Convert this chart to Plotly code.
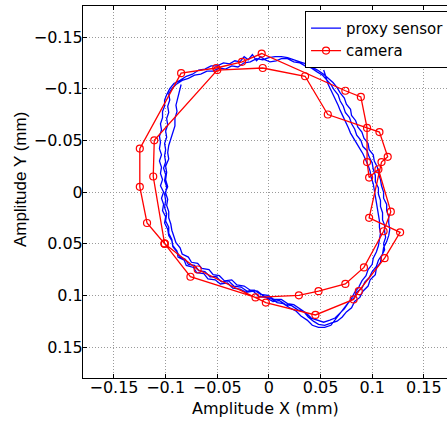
import plotly.graph_objects as go

# ---- data (mm) ----
camera_x = [-0.101, -0.076, -0.013, 0.029, 0.048, 0.074, 0.092, 0.111, 0.118, 0.106,
            0.097, 0.095, 0.095, 0.089, 0.074, -0.007, -0.026, -0.051, -0.085, -0.125,
            -0.125, -0.118, -0.101, -0.069, -0.003, 0.045, 0.082, 0.087, 0.112, 0.127,
            0.097, 0.109, 0.115, 0.107, 0.057, 0.035, -0.006, -0.050, -0.111, -0.112,
            -0.101]
camera_y = [0.050, 0.082, 0.102, 0.100, 0.096, 0.089, 0.073, 0.038, 0.019, -0.022,
            -0.014, -0.029, -0.062, -0.092, -0.098, -0.134, -0.126, -0.120, -0.115, -0.042,
            -0.005, 0.030, 0.050, 0.075, 0.107, 0.119, 0.104, 0.096, 0.064, 0.039,
            0.025, -0.029, -0.034, -0.058, -0.075, -0.112, -0.120, -0.118, -0.050, -0.015,
            0.050]

proxy_x = [
    # loop 1
    -0.085, -0.087, -0.088, -0.090, -0.089, -0.091, -0.091, -0.093, -0.095, -0.097,
    -0.098, -0.097, -0.100, -0.099, -0.100, -0.098, -0.101, -0.100, -0.101, -0.099,
    -0.100, -0.097, -0.097, -0.094, -0.093, -0.089, -0.088, -0.082, -0.080, -0.073,
    -0.070, -0.063, -0.059, -0.052, -0.047, -0.040, -0.035, -0.028, -0.022, -0.015,
    -0.010, -0.003, 0.004, 0.010, 0.016, 0.022, 0.028, 0.034, 0.038, 0.043,
    0.048, 0.054, 0.060, 0.066, 0.071, 0.075, 0.080, 0.083, 0.088, 0.091,
    0.096, 0.098, 0.103, 0.104, 0.108, 0.109, 0.112, 0.111, 0.113, 0.112,
    0.112, 0.110, 0.110, 0.108, 0.108, 0.106, 0.106, 0.103, 0.103, 0.101,
    0.100, 0.097, 0.095, 0.091, 0.089, 0.085, 0.083, 0.080, 0.078, 0.074,
    0.072, 0.069, 0.067, 0.063, 0.060, 0.056, 0.052, 0.047, 0.041, 0.035,
    0.030, 0.024, 0.018, 0.012, 0.007, 0.001, -0.004, -0.008, -0.012, -0.016,
    -0.020, -0.024, -0.028, -0.033, -0.038, -0.044, -0.050, -0.056, -0.062, -0.068,
    -0.074, -0.080, -0.086, -0.092,
    # loop 2
    -0.096, -0.099, -0.101, -0.101, -0.103, -0.103, -0.105, -0.104, -0.106, -0.105,
    -0.106, -0.104, -0.106, -0.104, -0.105, -0.103, -0.105, -0.102, -0.104, -0.102,
    -0.103, -0.100, -0.101, -0.098, -0.097, -0.094, -0.093, -0.089, -0.086, -0.081,
    -0.078, -0.072, -0.068, -0.062, -0.057, -0.051, -0.046, -0.039, -0.034, -0.027,
    -0.021, -0.014, -0.008, -0.001, 0.005, 0.012, 0.018, 0.024, 0.030, 0.036,
    0.041, 0.047, 0.053, 0.059, 0.064, 0.069, 0.073, 0.077, 0.082, 0.085,
    0.090, 0.093, 0.097, 0.100, 0.104, 0.106, 0.110, 0.111, 0.114, 0.116,
    0.117, 0.116, 0.116, 0.114, 0.114, 0.111, 0.111, 0.109, 0.108, 0.106,
    0.105, 0.102, 0.101, 0.097, 0.096, 0.092, 0.090, 0.086, 0.084, 0.080,
    0.079, 0.075, 0.073, 0.069, 0.066, 0.062, 0.058, 0.053, 0.047, 0.042,
    0.036, 0.030, 0.024, 0.018, 0.012, 0.006, 0.000, -0.006, -0.012, -0.018,
    -0.024, -0.030, -0.036, -0.042, -0.048, -0.054, -0.060, -0.066, -0.072, -0.078,
    -0.084, -0.090, -0.094,
    # loop 3
    -0.097, -0.096, -0.098, -0.097, -0.099, -0.098, -0.100, -0.099, -0.101, -0.100,
    -0.101, -0.100, -0.102, -0.100, -0.101, -0.099, -0.100, -0.098, -0.099, -0.097,
    -0.097, -0.095, -0.094, -0.092, -0.090, -0.086, -0.084, -0.078, -0.075, -0.069,
    -0.065, -0.058, -0.054, -0.048, -0.043, -0.036, -0.031, -0.024, -0.018, -0.011,
    -0.005, 0.002, 0.008, 0.014, 0.020, 0.026, 0.031, 0.037, 0.042, 0.048,
    0.054, 0.060, 0.064, 0.068, 0.072, 0.076, 0.080, 0.083, 0.087, 0.090,
    0.094, 0.096, 0.100, 0.101, 0.104, 0.106, 0.107, 0.108, 0.107, 0.107,
    0.106, 0.105, 0.104, 0.103, 0.102, 0.101, 0.099, 0.098, 0.096, 0.094,
    0.091, 0.088, 0.085, 0.082, 0.079, 0.077, 0.074, 0.072, 0.069, 0.067,
    0.064, 0.062, 0.059, 0.057, 0.055, 0.053,
]
proxy_y = [
    # loop 1
    -0.104, -0.097, -0.091, -0.084, -0.078, -0.071, -0.064, -0.058, -0.051, -0.045,
    -0.038, -0.032, -0.025, -0.019, -0.012, -0.005, 0.002, 0.008, 0.015, 0.021,
    0.028, 0.034, 0.040, 0.046, 0.052, 0.057, 0.063, 0.066, 0.071, 0.073,
    0.078, 0.079, 0.084, 0.085, 0.089, 0.088, 0.093, 0.094, 0.097, 0.096,
    0.101, 0.102, 0.106, 0.105, 0.109, 0.110, 0.114, 0.116, 0.121, 0.125,
    0.128, 0.129, 0.127, 0.125, 0.121, 0.116, 0.112, 0.106, 0.102, 0.096,
    0.091, 0.085, 0.080, 0.074, 0.068, 0.062, 0.056, 0.050, 0.044, 0.038,
    0.032, 0.027, 0.020, 0.014, 0.008, 0.002, -0.004, -0.010, -0.016, -0.022,
    -0.028, -0.034, -0.040, -0.044, -0.050, -0.055, -0.061, -0.066, -0.072, -0.077,
    -0.083, -0.088, -0.094, -0.099, -0.104, -0.108, -0.113, -0.116, -0.120, -0.122,
    -0.125, -0.126, -0.129, -0.129, -0.127, -0.126, -0.128, -0.131, -0.127, -0.133,
    -0.128, -0.131, -0.126, -0.127, -0.124, -0.125, -0.122, -0.122, -0.119, -0.118,
    -0.114, -0.112, -0.108, -0.105,
    # loop 2
    -0.100, -0.094, -0.089, -0.083, -0.078, -0.072, -0.066, -0.060, -0.054, -0.048,
    -0.042, -0.036, -0.030, -0.024, -0.018, -0.012, -0.006, 0.000, 0.006, 0.012,
    0.018, 0.024, 0.030, 0.036, 0.042, 0.047, 0.053, 0.058, 0.063, 0.065,
    0.070, 0.071, 0.076, 0.077, 0.082, 0.082, 0.087, 0.086, 0.091, 0.092,
    0.096, 0.095, 0.099, 0.100, 0.104, 0.104, 0.108, 0.109, 0.113, 0.117,
    0.122, 0.124, 0.126, 0.124, 0.122, 0.117, 0.113, 0.107, 0.103, 0.097,
    0.093, 0.087, 0.083, 0.077, 0.072, 0.066, 0.060, 0.054, 0.048, 0.042,
    0.036, 0.030, 0.024, 0.018, 0.012, 0.006, 0.000, -0.006, -0.012, -0.018,
    -0.024, -0.030, -0.036, -0.041, -0.047, -0.052, -0.058, -0.063, -0.069, -0.074,
    -0.080, -0.085, -0.091, -0.096, -0.101, -0.106, -0.110, -0.114, -0.118, -0.121,
    -0.124, -0.126, -0.128, -0.130, -0.131, -0.131, -0.130, -0.128, -0.129, -0.126,
    -0.125, -0.121, -0.122, -0.119, -0.120, -0.117, -0.117, -0.114, -0.113, -0.110,
    -0.108, -0.104, -0.100,
    # loop 3
    -0.095, -0.089, -0.083, -0.077, -0.071, -0.065, -0.059, -0.053, -0.047, -0.041,
    -0.035, -0.029, -0.023, -0.017, -0.011, -0.005, 0.001, 0.007, 0.013, 0.019,
    0.025, 0.031, 0.037, 0.043, 0.049, 0.054, 0.060, 0.063, 0.068, 0.069,
    0.074, 0.075, 0.080, 0.081, 0.086, 0.085, 0.090, 0.091, 0.095, 0.096,
    0.101, 0.103, 0.107, 0.108, 0.112, 0.115, 0.120, 0.124, 0.129, 0.131,
    0.131, 0.129, 0.124, 0.119, 0.114, 0.108, 0.103, 0.097, 0.092, 0.086,
    0.081, 0.075, 0.070, 0.064, 0.058, 0.052, 0.046, 0.040, 0.034, 0.028,
    0.022, 0.016, 0.010, 0.004, -0.002, -0.008, -0.014, -0.020, -0.026, -0.031,
    -0.037, -0.042, -0.047, -0.051, -0.057, -0.062, -0.068, -0.073, -0.079, -0.084,
    -0.090, -0.095, -0.101, -0.105, -0.112, -0.118,
]

tick_vals = [-0.15, -0.1, -0.05, 0, 0.05, 0.1, 0.15]
tick_text = ["\u22120.15", "\u22120.1", "\u22120.05", "0", "0.05", "0.1", "0.15"]

HFONT = "DejaVu Sans"
VFONT = "Liberation Sans"

fig = go.Figure()
fig.add_trace(go.Scatter(
    x=proxy_x, y=proxy_y, mode="lines", name="proxy sensor",
    line=dict(color="#0000ff", width=1.3),
))
fig.add_trace(go.Scatter(
    x=camera_x, y=camera_y, mode="lines+markers", name="camera",
    line=dict(color="#ff0000", width=1.3),
    marker=dict(symbol="circle-open", size=7, color="#ff0000", line=dict(width=1.2)),
))

axis_common = dict(
    tickvals=tick_vals, ticktext=tick_text,
    showgrid=True, gridcolor="#9a9a9a", gridwidth=1, griddash="1px,2px",
    zeroline=False, showline=True, linecolor="black", linewidth=1,
    ticks="inside", ticklen=4, tickcolor="black", tickwidth=1,
    tickfont=dict(family=HFONT, size=16, color="black"),
)

fig.update_layout(
    width=447, height=426,
    margin=dict(l=83, r=0, t=6, b=48, autoexpand=False),
    paper_bgcolor="white", plot_bgcolor="white",
    xaxis=dict(range=[-0.18, 0.1724], mirror="ticks", ticklabelstandoff=-5, **axis_common),
    yaxis=dict(range=[0.18, -0.18], mirror=False, ticklabelstandoff=-4, **axis_common),
    showlegend=True,
    legend=dict(
        x=0.61, y=0.987, xanchor="left", yanchor="top",
        bgcolor="white", bordercolor="black", borderwidth=1,
        font=dict(family=HFONT, size=15, color="black"),
        tracegroupgap=0, itemwidth=30,
    ),
    annotations=[
        dict(text="Amplitude X (mm)", xref="paper", yref="paper",
             x=0.5, y=-0.082, xanchor="center", yanchor="middle", showarrow=False,
             font=dict(family=HFONT, size=16, color="black")),
        dict(text="Amplitude Y (mm)", xref="paper", yref="paper",
             x=-0.173, y=0.532, xanchor="center", yanchor="middle", showarrow=False,
             textangle=-90, font=dict(family=VFONT, size=17, color="black")),
    ],
)

fig.write_html("out.html", config={"displayModeBar": False},
               post_script="document.body.style.margin='0px';document.body.style.overflow='hidden';")
